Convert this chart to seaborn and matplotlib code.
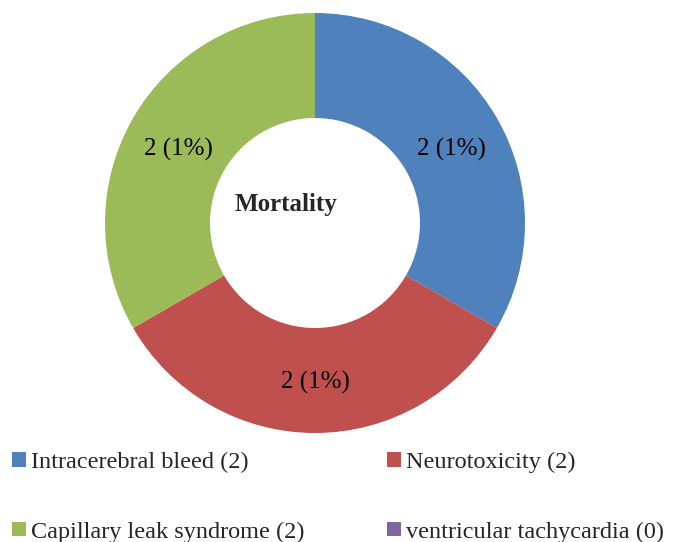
import numpy as np
import matplotlib.pyplot as plt
import seaborn as sns
from matplotlib.patches import Patch

# data
causes = ["Intracerebral bleed", "Neurotoxicity", "Capillary leak syndrome", "ventricular tachycardia"]
counts = [2, 2, 2, 0]
pct_labels = ["2 (1%)", "2 (1%)", "2 (1%)", ""]
colors = ["#4F81BD", "#C0504D", "#9BBB59", "#8064A2"]

sns.set_theme(style="white")
plt.rcParams['font.family'] = ['Liberation Serif', 'DejaVu Serif']

fig = plt.figure(figsize=(6.73, 5.42), dpi=100)
ax = fig.add_axes([105 / 673, 1 - 433 / 542, 420 / 673, 420 / 542])

wedges, _ = ax.pie(counts, colors=colors, startangle=90, counterclock=False,
                   wedgeprops=dict(width=0.5, edgecolor="white", linewidth=0))
ax.set_xlim(-1, 1)
ax.set_ylim(-1, 1)
ax.set_aspect("equal")

# slice labels at ~0.74 of the radius
for w, lab in zip(wedges, pct_labels):
    if not lab:
        continue
    ang = np.deg2rad((w.theta1 + w.theta2) / 2)
    ax.text(0.75 * np.cos(ang), 0.74 * np.sin(ang) - 0.02, lab, ha="center", va="center",
            fontsize=18, color="black")

ax.text(-0.14, 0.09, "Mortality", ha="center", va="center", fontsize=18, fontweight="bold")

handles = [Patch(facecolor=c, edgecolor="none") for c in colors]
labels = [f"{n} ({v})" for n, v in zip(causes, counts)]
order = [0, 2, 1, 3]  # legend fills column by column
fig.legend([handles[i] for i in order], [labels[i] for i in order],
           loc="upper left", bbox_to_anchor=(0.004, 1 - 442 / 542),
           ncol=2, frameon=False, fontsize=17.5, handlelength=0.55, handleheight=0.55,
           handletextpad=0.22, labelspacing=2.0, columnspacing=3.4, borderaxespad=0)

fig.savefig("out.png", dpi=100)
